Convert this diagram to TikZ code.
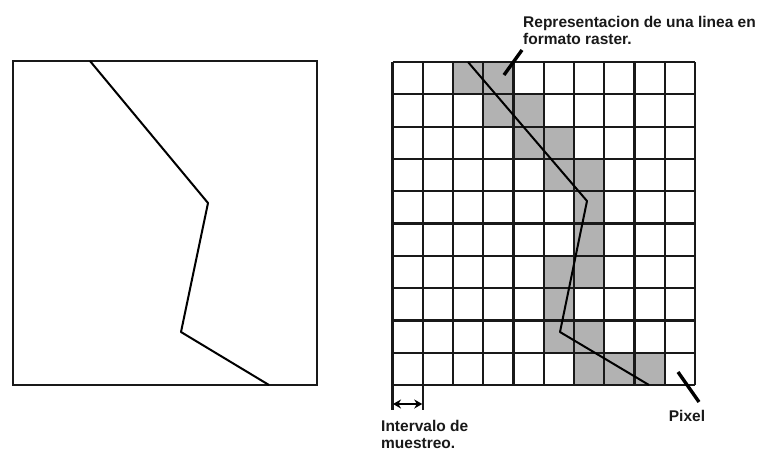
\documentclass[tikz,border=0pt]{standalone}
\usepackage{fontspec}
\setmainfont{Liberation Sans}
\usetikzlibrary{arrows.meta,calc}
\tikzset{
  frame/.style={draw=black!90, line width=2.2pt},
  gridline/.style={draw=black!90, line width=2.2pt},
  pline/.style={draw=black, line width=2pt, line join=round},
  leader/.style={draw=black, line width=3.4pt},
  lab/.style={font=\bfseries\fontsize{15.5}{16.4}\selectfont, inner sep=0pt, align=left, text=black!90},
  cell/.style={fill=black!30},
}
\begin{document}
\begin{tikzpicture}[x=1pt,y=-1pt]
\useasboundingbox (0,0) rectangle (761,451);
\fill[white] (0,0) rectangle (761,451);
% left panel
\draw[frame] (13,61) rectangle (317,385);
\draw[pline] (90,61) -- (208,203) -- (181,332) -- (269,385);
% right panel: shaded cells
\def\cw{30.25}\def\rh{32.3}
\foreach \r/\cs in {1/{3,4},2/{4,5},3/{5,6},4/{6,7},5/{7},6/{7},7/{6,7},8/{6},9/{6,7},10/{7,8,9}}{
  \foreach \c in \cs {
    \fill[cell] ({392.5+(\c-1)*\cw},{62+(\r-1)*\rh}) rectangle ++(\cw,\rh);
  }
}
\foreach \i in {0,...,10}{
  \draw[gridline] ({392.5+\i*\cw},62) -- ({392.5+\i*\cw},385);
  \draw[gridline] (392.5,{62+\i*\rh}) -- (695,{62+\i*\rh});
}
\draw[pline] (468,62) -- (587,201) -- (560,332) -- (649,385);
% labels
\node[lab, anchor=base west] (rep) at (523,44) {Representacion de una linea en\\formato raster.};
\coordinate (repend) at (522,50);
\coordinate (reptip) at (504,75);
\draw[leader] (repend) -- (reptip);
\node[lab, anchor=base] (pix) at (687,421) {Pixel};
\coordinate (pixa) at (678,372);
\coordinate (pixb) at (699,402);
\draw[leader] (pixa) -- (pixb);
% sampling interval
\coordinate (i0) at (392.5,385);
\coordinate (i1) at ({392.5+\cw},385);
\draw[gridline] (i0) -- ++(0,25) coordinate (i0b);
\draw[gridline] (i1) -- ++(0,25) coordinate (i1b);
\draw[line width=2.6pt, {Stealth[length=8pt,width=9pt]}-{Stealth[length=8pt,width=9pt]}] ($(i0b)+(0.5,-6)$) -- ($(i1b)+(-0.5,-6)$);
\node[lab, anchor=base west] (int) at (381,448) {Intervalo de\\muestreo.};
\end{tikzpicture}
\end{document}
